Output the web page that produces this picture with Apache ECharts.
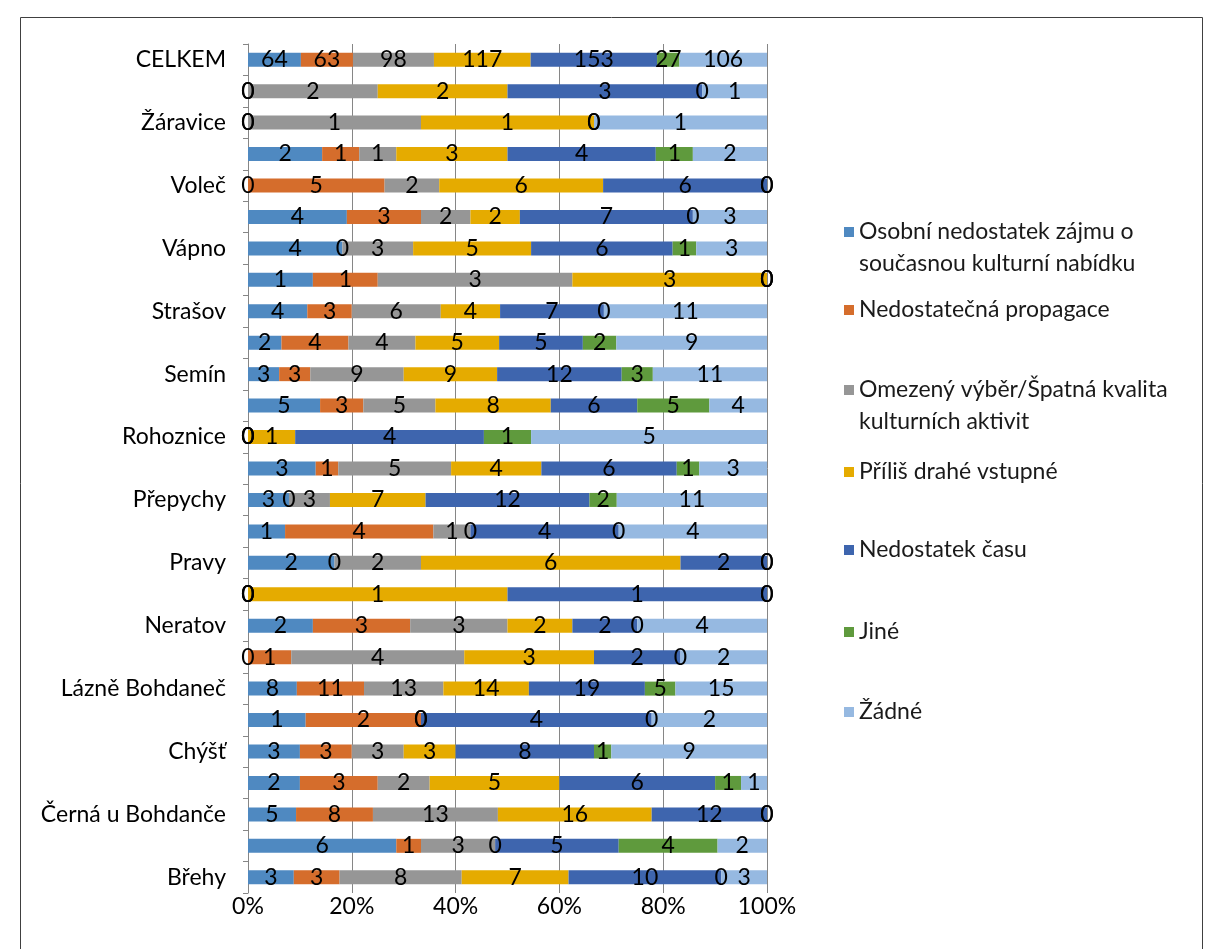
<!DOCTYPE html>
<html>
<head>
<meta charset="utf-8">
<script src="https://cdn.jsdelivr.net/npm/echarts@6/dist/echarts.min.js"></script>
<style>
html,body{margin:0;padding:0;background:#fff;}
#chart{width:1205px;height:949px;}
</style>
</head>
<body>
<div id="chart"></div>
<script>
// Categories (bottom to top, as drawn)
const categories = ['Břehy','Bukovka','Černá u Bohdanče','Dříteč','Chýšť','Kladruby nad Labem','Lázně Bohdaneč','Lipoltice','Neratov','Opatovice nad Labem','Pravy','Přelovice','Přepychy','Rohovládova Bělá','Rohoznice','Řečany nad Labem','Semín','Sopřeč','Strašov','Valy','Vápno','Vlčí Habřina','Voleč','Zdechovice','Žáravice','Živanice','CELKEM'];

const seriesNames = [
  'Osobní nedostatek zájmu o současnou kulturní nabídku',
  'Nedostatečná propagace',
  'Omezený výběr/Špatná kvalita kulturních aktivit',
  'Příliš drahé vstupné',
  'Nedostatek času',
  'Jiné',
  'Žádné'
];

const osobni    = [3,6,5,2,3,1,8,0,2,0,2,1,3,3,0,5,3,2,4,1,4,4,0,2,0,0,64];
const propagace = [3,1,8,3,3,2,11,1,3,0,0,4,0,1,0,3,3,4,3,1,0,3,5,1,0,0,63];
const vyber     = [8,3,13,2,3,0,13,4,3,0,2,1,3,5,0,5,9,4,6,3,3,2,2,1,1,2,98];
const vstupne   = [7,0,16,5,3,0,14,3,2,1,6,0,7,4,1,8,9,5,4,3,5,2,6,3,1,2,117];
const cas       = [10,5,12,6,8,4,19,2,2,1,2,4,12,6,4,6,12,5,7,0,6,7,6,4,0,3,153];
const jine      = [0,4,0,1,1,0,5,0,0,0,0,0,2,1,1,5,3,2,0,0,1,0,0,1,0,0,27];
const zadne     = [3,2,0,1,9,2,15,2,4,0,0,4,11,3,5,4,11,9,11,0,3,3,0,2,1,1,106];

const xTicks = [0,20,40,60,80,100];

const colors = ['#4f89c1','#d56d2c','#969696','#e5ab00','#3e65ae','#5f9a3d','#96b9e1'];
const legendLines = [
  ['Osobní nedostatek zájmu o','současnou kulturní nabídku'],
  ['Nedostatečná propagace'],
  ['Omezený výběr/Špatná kvalita','kulturních aktivit'],
  ['Příliš drahé vstupné'],
  ['Nedostatek času'],
  ['Jiné'],
  ['Žádné']
];
const legendY = [227,305,385,467,545,627,707];

const raw = [osobni, propagace, vyber, vstupne, cas, jine, zadne];
const totals = categories.map((c,i)=>raw.reduce((s,a)=>s+a[i],0));

const FONT = 'Lato, "Open Sans", sans-serif';
const FS = 23;

const series = raw.map((arr, k) => ({
  name: seriesNames[k],
  type: 'bar',
  stack: 'total',
  barWidth: 14,
  itemStyle: {color: colors[k]},
  label: {
    show: true,
    position: 'inside',
    color: '#000',
    fontSize: FS,
    fontFamily: FONT,
    formatter: p => String(arr[p.dataIndex])
  },
  emphasis: {disabled: true},
  data: arr.map((v,i) => totals[i] ? v / totals[i] * 100 : 0)
}));

const legends = seriesNames.map((n, k) => {
  const lines = legendLines[k];
  const multi = lines.length > 1;
  const blockH = multi ? 96 : 32;
  return {
    show: true,
    orient: 'vertical',
    left: 839,
    top: legendY[k] - blockH / 2,
    itemWidth: 10,
    itemHeight: 10,
    icon: 'rect',
    data: [n],
    selectedMode: false,
    formatter: () => multi ? ('\n' + lines.join('\n')) : lines[0],
    textStyle: {fontSize: FS, fontFamily: FONT, color: '#1a1a1a', lineHeight: 32}
  };
});

const chart = echarts.init(document.getElementById('chart'));
chart.setOption({
  animation: false,
  backgroundColor: '#fff',
  graphic: [{
    type: 'rect',
    shape: {x: 20.5, y: 17.5, width: 1182, height: 960},
    style: {fill: 'none', stroke: '#404040', lineWidth: 1},
    silent: true
  }],
  grid: {left: 248, top: 44, width: 519, height: 849, containLabel: false},
  legend: legends,
  xAxis: {
    type: 'value',
    min: xTicks[0],
    max: xTicks[xTicks.length - 1],
    interval: xTicks[1] - xTicks[0],
    axisLine: {show: false},
    axisTick: {show: false},
    axisLabel: {formatter: '{value}%', fontSize: FS, fontFamily: FONT, color: '#000', margin: 2},
    splitLine: {show: true, lineStyle: {color: '#868686', width: 1}}
  },
  yAxis: {
    type: 'category',
    data: categories,
    axisLine: {show: true, lineStyle: {color: '#868686'}},
    axisTick: {show: true, interval: 0, length: 5, inside: false, lineStyle: {color: '#868686'}},
    axisLabel: {interval: 1, fontSize: FS, fontFamily: FONT, color: '#000', margin: 22},
    splitLine: {show: false}
  },
  series: series
});
</script>
</body>
</html>
